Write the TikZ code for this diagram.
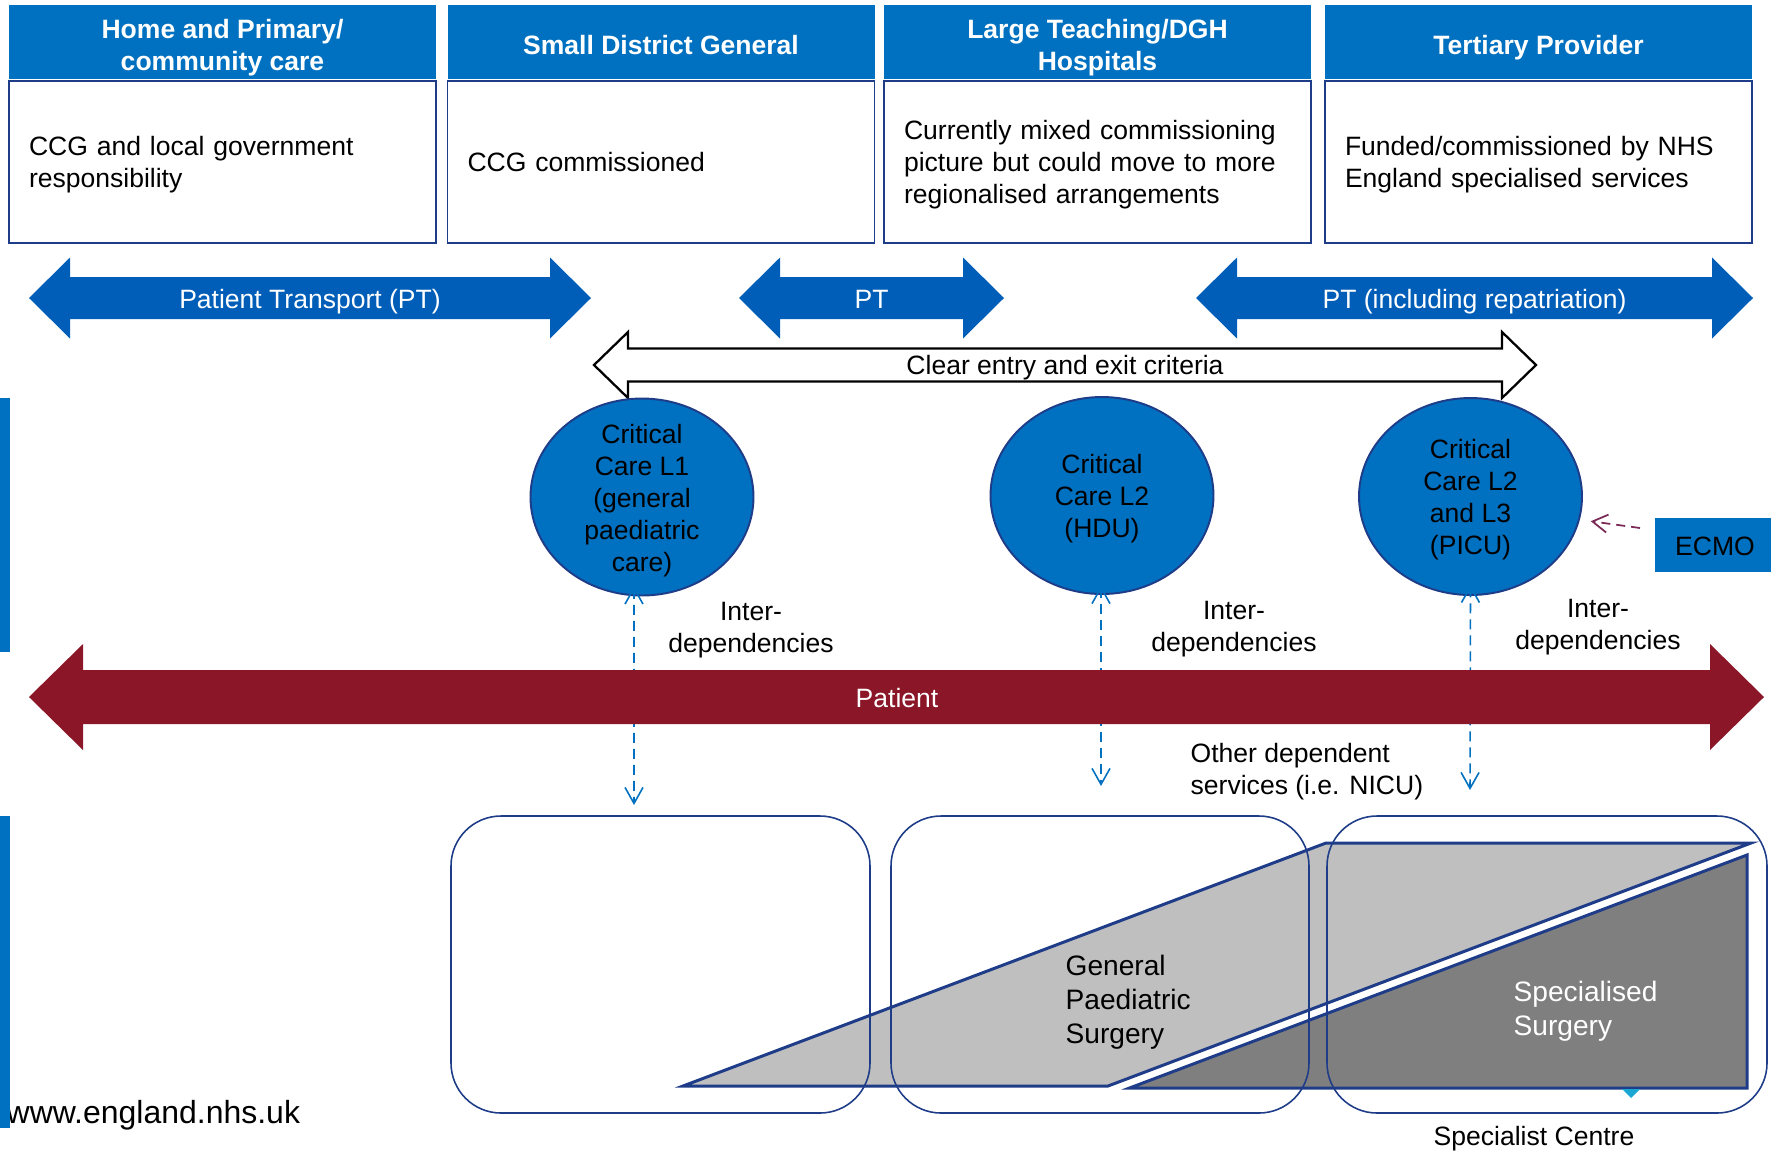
\documentclass[tikz,border=0pt]{standalone}
\usepackage{fontspec}
\setmainfont{Liberation Sans}
\usetikzlibrary{shapes.geometric, positioning, calc, arrows.meta}

\definecolor{nhsblue}{HTML}{0070C0}
\definecolor{ptblue}{HTML}{005EB8}
\definecolor{navy}{HTML}{1F3C88}
\definecolor{patientred}{HTML}{8A1627}
\definecolor{ecmored}{HTML}{7A2A55}
\definecolor{lightgrey}{HTML}{BFBFBF}
\definecolor{darkgrey}{HTML}{7F7F7F}
\definecolor{markcyan}{HTML}{1AA7D4}

% wide two-headed arrow: style, left x, right x, mid y, half shaft, half head, head length
\newcommand\twoway[7]{%
  \path[#1] (#2,#4) -- ++(#7,-#6) -- ++(0,#6-#5) -- (#3-#7,#4-#5) -- ++(0,#5-#6)
    -- (#3,#4) -- ++(-#7,#6) -- ++(0,#5-#6) -- (#2+#7,#4+#5) -- ++(0,#6-#5) -- cycle;}
% struts so that every line sits like the slide text
\newcommand\topstrut{\rule[-1.6pt]{0pt}{9pt}}
\newcommand\hdstrut{\rule[-1.6pt]{0pt}{10.5pt}}
\newcommand\lowstrut{\rule[-1.6pt]{0pt}{1.6pt}}

\begin{document}
\begin{tikzpicture}[x=0.1mm, y=-0.1mm,
    every node/.style={font=\fontsize{7.55}{9.1}\selectfont, inner sep=0pt,
      execute at begin node=\topstrut, execute at end node=\lowstrut},
    head/.style={fill=nhsblue, text=white, font=\fontsize{7.55}{9.1}\selectfont\bfseries,
      minimum width=42.7mm, minimum height=7.4mm, align=center,
      execute at begin node=\hdstrut},
    body/.style={draw=navy, line width=0.55pt, fill=white, minimum width=42.7mm,
      minimum height=16.2mm, text width=38.7mm, inner xsep=2mm, align=left},
    ptarrow/.style={fill=ptblue},
    white text/.style={text=white},
    ccare/.style={ellipse, fill=nhsblue, draw=navy, line width=0.55pt,
      minimum width=22.3mm, minimum height=19.7mm},
    cctext/.style={align=center, yshift=-0.34mm},
    dep/.style={nhsblue, line width=0.45pt, dash pattern=on 1mm off 0.6mm,
      {Straight Barb[length=1.6mm,width=1.8mm]}-{Straight Barb[length=1.6mm,width=1.8mm]}},
    rbox/.style={draw=navy, line width=0.45pt, rounded corners=5mm, minimum height=29.7mm},
    surgery/.style={draw=navy, line width=0.85pt},
    big/.style={font=\fontsize{8}{9.7}\selectfont, align=left, anchor=west}]

  \useasboundingbox (0,0) rectangle (1771,1150);

  % commissioning
  \node[head] (h1) at (222.5,42) {\hdstrut Home and Primary/\\community care\lowstrut};
  \node[head] (h2) at (661,42) {Small District General};
  \node[head] (h3) at (1097.5,42) {\hdstrut Large Teaching/DGH\\Hospitals\lowstrut};
  \node[head] (h4) at (1538.5,42) {Tertiary Provider};
  \node[body, below=0pt of h1] (c1) {CCG and local government\\responsibility};
  \node[body, below=0pt of h2] (c2) {CCG commissioned};
  \node[body, below=0pt of h3] (c3) {Currently mixed commissioning\\picture but could move to more\\regionalised arrangements};
  \node[body, below=0pt of h4] (c4) {Funded/commissioned by NHS\\England specialised services};

  % transport
  \twoway{ptarrow}{29}{591}{298}{21}{40.5}{41}
  \twoway{ptarrow}{739}{1004}{298}{21}{40.5}{41}
  \twoway{ptarrow}{1196}{1753}{298}{21}{40.5}{41}
  \node[white text] (pt1) at (310,298) {Patient Transport (PT)};
  \node[white text] (pt2) at (871.5,298) {PT};
  \node[white text] (pt3) at (1474.5,298) {PT (including repatriation)};

  % criteria
  \twoway{draw=black, line width=0.65pt, fill=white}{594}{1536}{365}{16.5}{33}{34}
  \node (criteria) at (1065,364) {Clear entry and exit criteria};

  % critical care
  \node[ccare] (cc1) at (642,497) {};
  \node[ccare] (cc2) at (1102,495.5) {};
  \node[ccare] (cc3) at (1470.5,496.5) {};
  \node[cctext] (cc1-t) at (cc1) {Critical\\Care L1\\(general\\paediatric\\care)};
  \node[cctext] (cc2-t) at (cc2) {Critical\\Care L2\\(HDU)};
  \node[cctext] (cc3-t) at (cc3) {Critical\\Care L2\\and L3\\(PICU)};

  \node[fill=nhsblue, minimum width=12mm, minimum height=5.4mm] (ecmo) at (1715,545) {ECMO};
  \coordinate (ecmo-tail) at (1640,528);
  \draw[ecmored, line width=0.5pt, dash pattern=on 0.9mm off 0.6mm, shorten >=1.1mm,
    -{Straight Barb[length=1.5mm,width=1.8mm]}] (ecmo-tail) -- (cc3.-12);

  % interdependencies
  \coordinate (dep1) at (634,805);
  \coordinate (dep2) at (1101,786);
  \coordinate (dep3) at (1470,790);
  \draw[dep] ([xshift=-0.8mm, yshift=1mm]cc1.south) -- (dep1);
  \draw[dep] ([xshift=-0.1mm, yshift=0.9mm]cc2.south) -- (dep2);
  \draw[dep] ([yshift=1.1mm]cc3.south) -- (dep3);
  \node[align=center] (id1) at (751,630.5) {Inter-\\dependencies};
  \node[align=center] (id2) at (1234,629.5) {Inter-\\dependencies};
  \node[align=center] (id3) at (1598,627) {Inter-\\dependencies};
  \node[align=left, anchor=west] (nicu) at (1190,771.5) {Other dependent\\services (i.e. NICU)};

  % patient
  \twoway{fill=patientred}{29}{1764}{697}{27}{53}{54}
  \node[white text] (patient) at (897,697) {Patient};

  % surgery
  \filldraw[surgery, fill=lightgrey] (683,1086) -- (1326,843) -- (1751,843) -- (1108,1086) -- cycle;
  \filldraw[surgery, fill=darkgrey] (1129.5,1088) -- (1747,855) -- (1747,1088) -- cycle;
  \fill[markcyan] (1622,1089) -- (1640,1089) -- (1631,1098) -- cycle;
  \node[big] (gps) at (1065,1002.5) {General\\Paediatric\\Surgery};
  \node[big, white text] (ss) at (1513,1011.5) {Specialised\\Surgery};
  \node[rbox, minimum width=41.9mm] (rb1) at (660.5,964.5) {};
  \node[rbox, minimum width=41.8mm] (rb2) at (1100,964.5) {};
  \node[rbox, minimum width=44mm] (rb3) at (1547,964.5) {};
  \node (centre) at (1534,1135.5) {Specialist Centre};

  % footer
  \node[anchor=west, font=\fontsize{9.1}{10.9}\selectfont] (web) at (6,1114) {www.england.nhs.uk};
  \fill[nhsblue] (0,398) rectangle (10,652);
  \fill[nhsblue] (0,816) rectangle (10,1128);
\end{tikzpicture}
\end{document}
